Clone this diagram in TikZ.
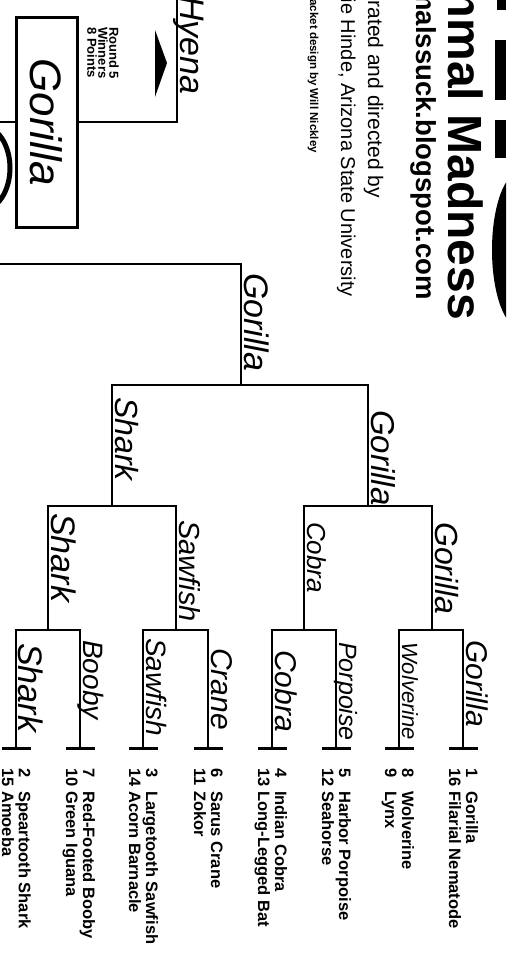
\documentclass[tikz,border=0pt]{standalone}
\usepackage{fontspec}
\setmainfont{Liberation Sans}
\usepackage{tikz}
\usetikzlibrary{positioning, calc}

\begin{document}
\begin{tikzpicture}[
    x=1pt, y=-1pt,
    bline/.style={line width=2pt, line cap=rect},
    tickline/.style={line width=3pt},
    seednum/.style={rotate=-90, anchor=base west, inner sep=0pt,
                    font=\fontsize{16.5}{16.5}\selectfont\bfseries},
    hand/.style={rotate=-90, anchor=base west, inner sep=0pt,
                 font=\fontsize{#1}{#1}\selectfont\itshape},
    hand/.default=28,
    heading/.style={rotate=-90, anchor=base east, inner sep=0pt},
  ]
    \useasboundingbox (0,0) rectangle (506,961);
    \clip (0,0) rectangle (506,961);

    % header
    \node[heading, font=\fontsize{48}{48}\selectfont\bfseries] (title) at (448,320) {Mammal Madness};
    \node[heading, font=\fontsize{27.5}{27.5}\selectfont\bfseries] (blog) at (416,300) {mammalssuck.blogspot.com};
    \node[heading, font=\fontsize{21}{21}\selectfont] (curated) at (368,198) {Curated and directed by};
    \node[heading, font=\fontsize{20}{20}\selectfont] (director) at (341,297) {Katie Hinde, Arizona State University};
    \node[heading, font=\fontsize{11.5}{11.5}\selectfont\bfseries] (design) at (310,153) {Bracket design by Will Nickley};

    % big letters cut by the edge
    \fill (497,0) rectangle (506,10);
    \fill (495,40) rectangle (506,100);
    \fill (495,120) rectangle (506,158);
    \fill (520,250) ellipse (28 and 78);
    \fill[white] (520,250) ellipse (14 and 55);

    % round 1
    \foreach \x/\na/\ta/\nb/\tb in {463/1/Gorilla/16/Filarial Nematode,
        399/8/Wolverine/9/Lynx, 336/5/Harbor Porpoise/12/Seahorse,
        272/4/Indian Cobra/13/Long-Legged Bat, 208/6/Sarus Crane/11/Zokor,
        143/3/Largetooth Sawfish/14/Acorn Barnacle,
        80/7/Red-Footed Booby/10/Green Iguana, 16/2/Speartooth Shark/15/Amoeba}{
      \draw[bline] (\x,630) -- (\x,748);
      \draw[tickline] (\x-14,748) -- (\x+15,748);
      \node[seednum] (n\na) at (\x+3,768) {\na};
      \node[seednum] (s\na) at (\x+3,791) {\ta};
      \node[seednum] (n\nb) at (\x-14,768) {\nb};
      \node[seednum] (s\nb) at (\x-14,791) {\tb};
    }
    \foreach \xa/\xb in {16/80, 143/208, 272/336, 399/463}
      \draw[bline] (\xa,630) -- (\xb,630);

    % round 2
    \foreach \x in {48, 176, 304, 432}
      \draw[bline] (\x,506) -- (\x,630);
    \draw[bline] (48,506) -- (176,506);
    \draw[bline] (304,506) -- (432,506);

    % round 3 and 4
    \draw[bline] (112,385) -- (112,506);
    \draw[bline] (368,385) -- (368,506);
    \draw[bline] (112,385) -- (368,385);
    \draw[bline] (241,264) -- (241,385);
    \draw[bline] (0,264) -- (241,264);

    % winners
    \foreach \x/\y/\s/\w in {463/640/30/Gorilla, 399/642/22/Wolverine,
        336/642/25/Porpoise, 272/650/30/Cobra, 208/648/30/Crane,
        143/638/28/Sawfish, 80/640/28/Booby, 16/643/34/Shark,
        432/522/32/Gorilla, 304/522/26/Cobra, 176/520/29/Sawfish,
        48/513/34/Shark, 368/410/33/Gorilla, 112/397/32/Shark,
        241/273/34/Gorilla}
      \node[hand=\s] (w\x-\y) at (\x+3,\y) {\w};

    % round 5
    \node[hand=44, anchor=center, draw, line width=3pt, minimum width=210pt,
          minimum height=61pt] (champ) at (46.5,122) {Gorilla};
    \node[rotate=-90, anchor=north west, inner sep=0pt, align=left,
          font=\fontsize{13}{11}\selectfont\bfseries] (rnd) at (119,27)
      {Round 5\\Winners\\8 Points};
    \node[hand=34] (hyena) at (180,-4) {Hyena};
    \draw[bline] (0,122) -- (champ.south);
    \draw[bline] (champ.north) -- (177,122) -- (177,0);
    \fill (155,30) -- (167,63) -- (155,97) -- cycle;
    \draw[line width=5pt] (-18,168) ellipse (28 and 42);
  \end{tikzpicture}
\end{document}
